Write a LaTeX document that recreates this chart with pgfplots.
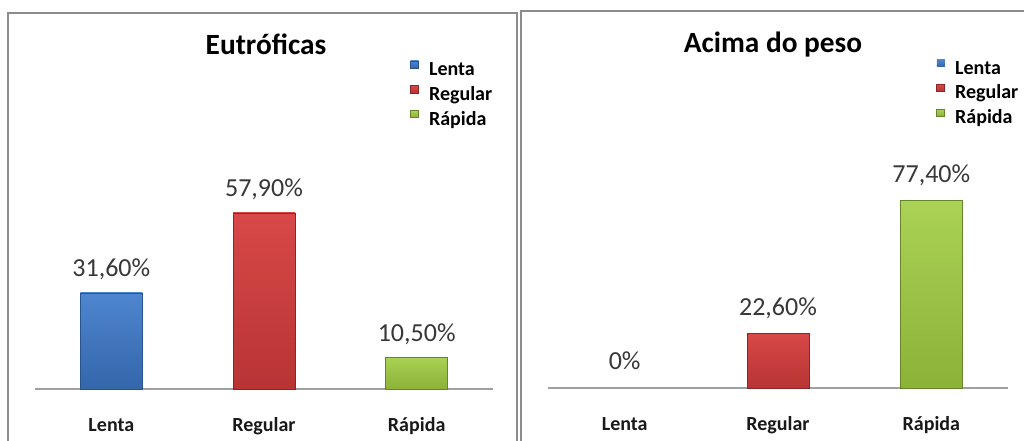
\documentclass[border=0pt]{standalone}
\usepackage{fontspec}
\setmainfont{Carlito}
\usepackage{pgfplots}
\pgfplotsset{compat=1.18}
\definecolor{blA}{HTML}{4E86D0}
\definecolor{blB}{HTML}{3466AA}
\definecolor{blE}{HTML}{2A5490}
\definecolor{rdA}{HTML}{D84848}
\definecolor{rdB}{HTML}{B83434}
\definecolor{rdE}{HTML}{8A2626}
\definecolor{grA}{HTML}{AAD254}
\definecolor{grB}{HTML}{8CB238}
\definecolor{grE}{HTML}{66852A}
\definecolor{lbl}{HTML}{383838}
\definecolor{frame}{HTML}{8C8C8C}
\pgfplotsset{
  panel/.style={
    scale only axis, clip=false,
    ymin=0, ymax=100, xmin=-0.5, xmax=2.5,
    axis y line=none, axis x line*=bottom,
    x axis line style={draw=gray!75, line width=0.8pt},
    xtick={0,1,2}, xticklabels={Lenta,Regular,Rápida},
    major tick length=0pt,
    xticklabel style={font=\bfseries\fontsize{15}{17}\selectfont, text=black!90, anchor=base, yshift=-32.25pt},
    ybar, bar width=46.5pt,
    point meta=explicit symbolic,
    nodes near coords,
    every node near coord/.append style={anchor=base, font=\fontsize{19.5}{22}\selectfont, text=lbl},
    legend cell align=left,
    legend image code/.code={\fill[##1] (0pt,1.5pt) rectangle (6pt,6.9pt);},
    legend style={draw=none, fill=none, anchor=north west, font=\bfseries\fontsize{15}{17}\selectfont,
      row sep=4.4pt, column sep=7.5pt,
      nodes={inner sep=0pt, text height=11pt, text depth=3pt, anchor=west}},
  },
  blbar/.style={bar shift=0pt, top color=blA, bottom color=blB, draw=blE, line width=0.6pt},
  rdbar/.style={bar shift=0pt, top color=rdA, bottom color=rdB, draw=rdE, line width=0.6pt},
  grbar/.style={bar shift=0pt, top color=grA, bottom color=grB, draw=grE, line width=0.6pt},
}
\begin{document}
\begin{tikzpicture}[x=0.75pt,y=0.75pt]
\useasboundingbox (0,0) rectangle (1024,441);
\begin{scope}
\clip (0,0) rectangle (1024,441);
\fill[white] (0,0) rectangle (1024,441);
\draw[frame, line width=1.5pt] (8,-10) -- (8,428) -- (517,428) -- (517,-10);
\draw[frame, line width=1.5pt] (520.5,-10) -- (520.5,430) -- (1030,430);
\end{scope}
\node[anchor=base, font=\bfseries\fontsize{22}{26}\selectfont] at (266,386) {Eutróficas};
\node[anchor=base, font=\bfseries\fontsize{22}{26}\selectfont] at (773,388) {Acima do peso};

\begin{axis}[panel, at={(26.25pt,39pt)}, anchor=south west, width=343.5pt, height=228pt,
  every node near coord/.append style={yshift=12pt},
  legend style={at={(0.81,1.09)}}]
\addplot[blbar] coordinates {(0,31.6) [31,60\%]};
\addlegendentry{Lenta}
\addplot[rdbar] coordinates {(1,57.9) [57,90\%]};
\addlegendentry{Regular}
\addplot[grbar] coordinates {(2,10.5) [10,50\%]};
\addlegendentry{Rápida}
\end{axis}

\begin{axis}[panel, at={(411pt,39.75pt)}, anchor=south west, width=345pt, height=181.5pt,
  every node near coord/.append style={yshift=13.5pt},
  legend style={at={(0.835,1.37)}}]
\addplot[blbar, draw=none] coordinates {(0,0) [0\%]};
\addlegendentry{Lenta}
\addplot[rdbar] coordinates {(1,22.6) [22,60\%]};
\addlegendentry{Regular}
\addplot[grbar] coordinates {(2,77.4) [77,40\%]};
\addlegendentry{Rápida}
\end{axis}
\end{tikzpicture}
\end{document}
